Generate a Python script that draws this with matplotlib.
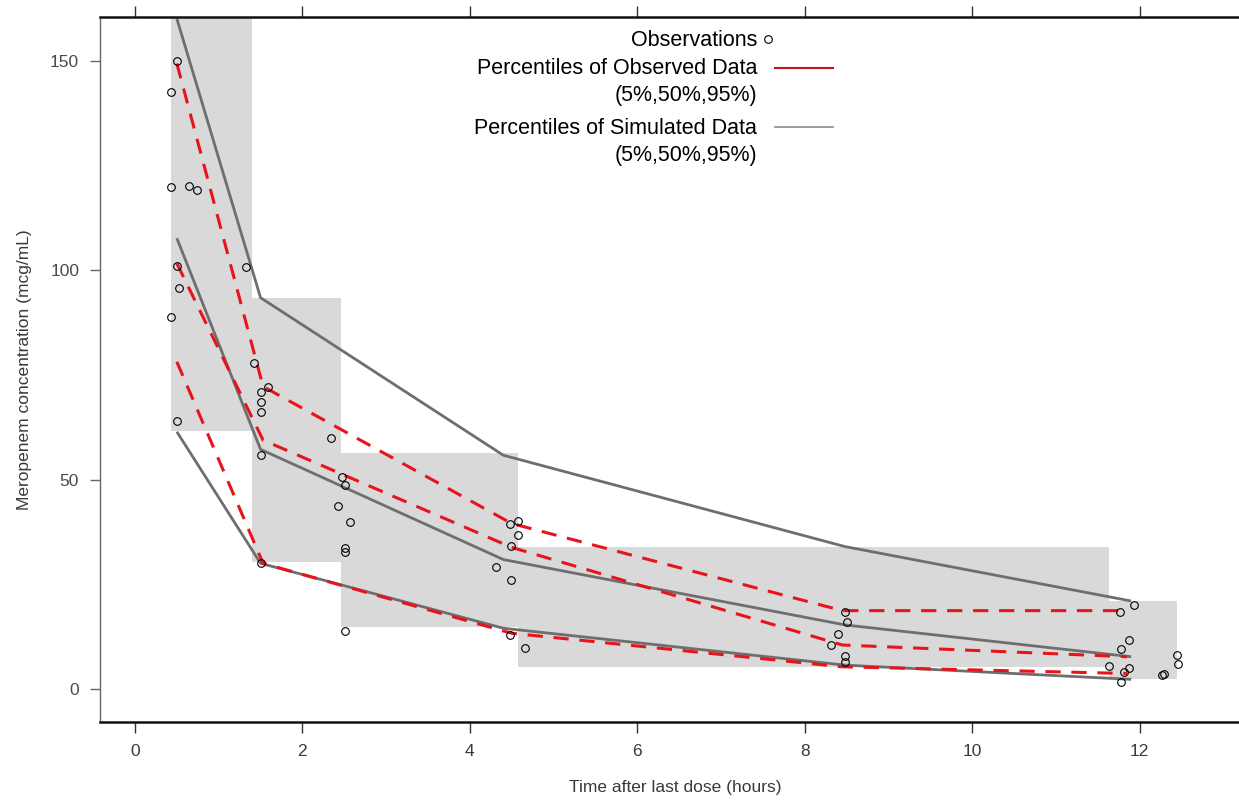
import matplotlib
matplotlib.use("Agg")
import matplotlib.pyplot as plt
from matplotlib.patches import Rectangle
from matplotlib.lines import Line2D

plt.rcParams['font.family'] = ['Liberation Sans', 'DejaVu Sans']

# ---- data ----
bin_left = [0.425, 1.40, 2.46, 4.58, 11.63]
bin_right = [1.40, 2.46, 4.58, 11.63, 12.45]
bin_low = [61.6, 30.3, 14.8, 5.3, 2.3]
bin_high = [175.0, 93.4, 56.3, 34.0, 21.0]

sim_time = [0.5, 1.5, 4.4, 8.48, 11.9]
sim_p95 = [160.0, 93.4, 55.8, 34.0, 21.0]
sim_p50 = [107.6, 57.2, 30.9, 15.3, 7.7]
sim_p05 = [61.4, 30.0, 14.5, 5.7, 2.3]

obs_time = [0.5, 1.53, 4.5, 8.45, 11.85]
obs_p95 = [149.3, 72.2, 39.5, 18.7, 18.7]
obs_p50 = [101.6, 59.4, 33.8, 10.5, 7.7]
obs_p05 = [78.1, 30.0, 13.3, 5.3, 3.7]

obs_x = [0.50, 0.43, 0.43, 0.64, 0.74, 0.50, 0.52, 0.43, 0.50, 1.33,
         1.42, 1.59, 1.51, 1.51, 1.51, 1.51, 1.51, 2.34,
         2.47, 2.51, 2.42, 2.57, 2.51, 2.51, 2.51,
         4.48, 4.58, 4.57, 4.49, 4.31, 4.49, 4.48, 4.66,
         8.48, 8.50, 8.40, 8.32, 8.48, 8.48,
         11.93, 11.77, 11.88, 11.78, 11.63, 11.88, 11.81, 11.78,
         12.45, 12.46, 12.29, 12.27]
obs_y = [150.0, 142.5, 119.9, 120.0, 119.1, 101.0, 95.6, 88.7, 64.0, 100.8,
         77.9, 72.2, 71.0, 68.6, 66.2, 55.8, 30.0, 59.8,
         50.5, 48.7, 43.7, 39.8, 33.7, 32.8, 13.8,
         39.4, 40.0, 36.8, 34.1, 29.2, 26.0, 13.0, 9.9,
         18.4, 16.1, 13.1, 10.5, 7.9, 6.5,
         20.0, 18.4, 11.8, 9.5, 5.5, 4.9, 4.1, 1.7,
         8.1, 5.9, 3.6, 3.3]

x_ticks = [0, 2, 4, 6, 8, 10, 12]
y_ticks = [0, 50, 100, 150]

# ---- figure ----
W, H = 1239, 800
fig = plt.figure(figsize=(W / 100, H / 100), dpi=100)
ax = fig.add_axes([100 / W, 78 / H, 1150 / W, 705 / H])
ax.set_xlim(-0.418, 13.32)
ax.set_ylim(-7.88, 160.4)

gray_fill = '#d9d9d9'
for l, r, lo, hi in zip(bin_left, bin_right, bin_low, bin_high):
    ax.add_patch(Rectangle((l, lo), r - l, hi - lo, facecolor=gray_fill,
                           edgecolor='none', zorder=1))

sim_col = '#6e6e6e'
for s in (sim_p95, sim_p50, sim_p05):
    ax.plot(sim_time, s, color=sim_col, lw=2.0, zorder=2, solid_capstyle='butt')

red = '#e8141c'
for s in (obs_p95, obs_p50, obs_p05):
    ax.plot(obs_time, s, color=red, lw=2.2, ls=(0, (5, 3.5)), zorder=3)

ax.plot(obs_x, obs_y, ls='none', marker='o', ms=5.5, mfc='none',
        mec='black', mew=0.8, zorder=4)

txt_col = '#3a3a3a'
ax.set_xticks(x_ticks)
ax.set_yticks(y_ticks)
ax.tick_params(axis='x', direction='out', length=8, width=1,
               labelsize=12.5, colors='#333333', labelcolor=txt_col,
               top=True, labeltop=False, pad=8)
ax.tick_params(axis='y', direction='out', length=7, width=1,
               labelsize=12.5, colors='#666666', labelcolor='#4a4a4a', pad=8)
for sp in ('bottom', 'top'):
    ax.spines[sp].set_linewidth(1.8)
    ax.spines[sp].set_color('#111111')
ax.spines['left'].set_linewidth(1.0)
ax.spines['left'].set_color('#666666')
ax.spines['right'].set_visible(False)

ax.set_xlabel('Time after last dose (hours)', fontsize=12.5, color=txt_col,
              labelpad=15)
ax.set_ylabel('Meropenem concentration (mcg/mL)', fontsize=12.5,
              color=txt_col, labelpad=13)

# ---- legend (manual, right-aligned text with handles to the right) ----
def fx(px):
    return px / W

def fy(py):
    return 1 - py / H

leg_fs = 15.5
fig.text(fx(757), fy(41), 'Observations', ha='right', va='center', fontsize=leg_fs)
fig.text(fx(757), fy(68), 'Percentiles of Observed Data', ha='right', va='center', fontsize=leg_fs)
fig.text(fx(757), fy(96), '(5%,50%,95%)', ha='right', va='center', fontsize=leg_fs)
fig.text(fx(757), fy(128), 'Percentiles of Simulated Data', ha='right', va='center', fontsize=leg_fs)
fig.text(fx(757), fy(156), '(5%,50%,95%)', ha='right', va='center', fontsize=leg_fs)
fig.add_artist(Line2D([fx(768)], [fy(39)], ls='none', marker='o', ms=5.5,
                      mfc='none', mec='black', mew=0.8))
fig.add_artist(Line2D([fx(775), fx(833)], [fy(68), fy(68)], color='#c0141c', lw=1.5))
fig.add_artist(Line2D([fx(775), fx(833)], [fy(127), fy(127)], color='#8a8a8a', lw=1.2))

fig.savefig('out.png', dpi=100)
